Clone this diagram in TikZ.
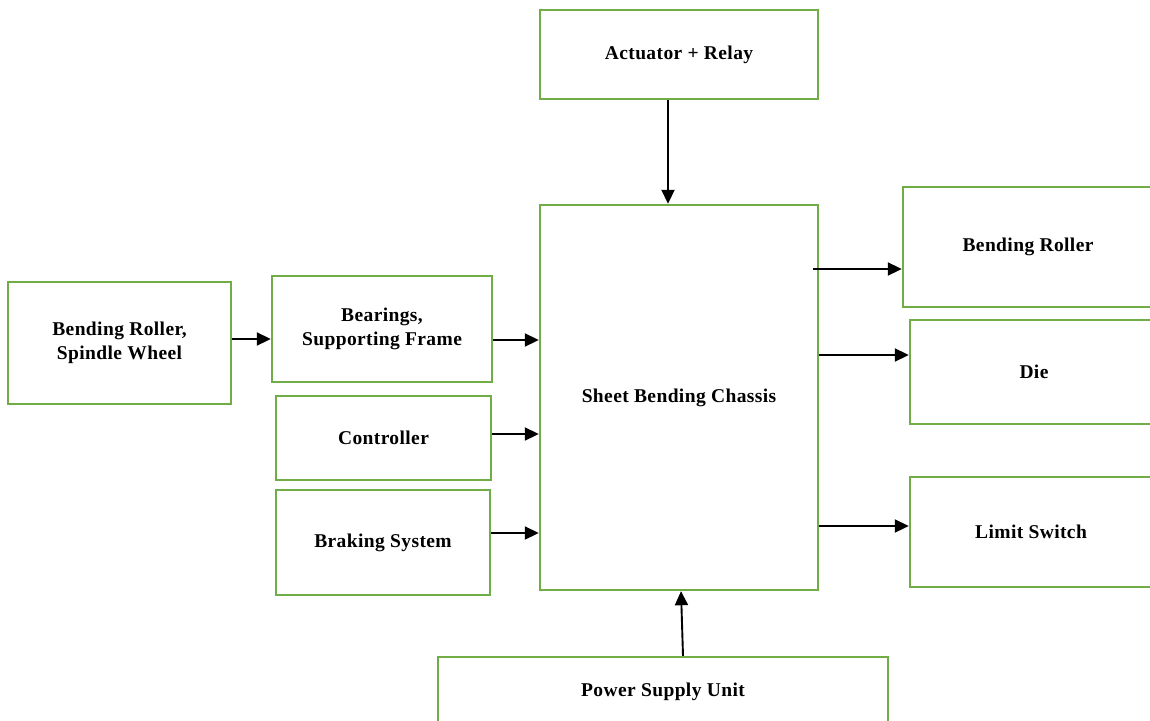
\documentclass[tikz,border=0pt]{standalone}
\usepackage{fontspec}
\setmainfont{Liberation Serif}[LetterSpace=2]
\usetikzlibrary{arrows.meta}
\definecolor{boxgreen}{RGB}{112,173,71}
\begin{document}
\begin{tikzpicture}[x=1pt,y=-1pt,
  box/.style={draw=boxgreen, line width=2.4pt, fill=white, align=center,
    font=\bfseries\fontsize{19.5}{24}\selectfont, inner sep=0pt},
  arr/.style={-{Triangle[length=14pt,width=13pt]}, line width=1.9pt, black}]
\useasboundingbox (0,0) rectangle (1150,720);
\clip (0,0) rectangle (1150,720);
% top and centre
\node[box, minimum width=278pt, minimum height=89pt] (act) at (679,54.5) {Actuator + Relay};
\node[box, minimum width=278pt, minimum height=385pt] (chassis) at (679,397.5) {Sheet Bending Chassis};
% right column (cut by the picture's right edge)
\node[box, minimum width=250pt, minimum height=120pt] (roller) at (1028,247) {Bending Roller};
\node[box, minimum width=248pt, minimum height=104pt] (die) at (1034,372) {Die};
\node[box, minimum width=242pt, minimum height=110pt] (limit) at (1031,532) {Limit Switch};
% left
\node[box, minimum width=223pt, minimum height=122pt] (spindle) at (119.5,343) {Bending Roller,\\Spindle Wheel};
\node[box, minimum width=220pt, minimum height=106pt] (bear) at (382,329) {Bearings,\\Supporting Frame};
\node[box, minimum width=215pt, minimum height=84pt] (ctrl) at (383.5,438) {Controller};
\node[box, minimum width=214pt, minimum height=105pt] (brake) at (383,542.5) {Braking System};
% bottom
\node[box, minimum width=450pt, minimum height=70pt] (psu) at (663,692) {Power Supply Unit};
% connectors
\draw[arr] (act.south -| 668,0) -- (chassis.north -| 668,0);
\draw[arr] ([xshift=-6pt]chassis.east |- 0,269) -- (roller.west |- 0,269);
\draw[arr] (chassis.east |- 0,355) -- (die.west |- 0,355);
\draw[arr] (chassis.east |- 0,526) -- (limit.west |- 0,526);
\draw[arr] (spindle.east |- 0,339) -- (bear.west |- 0,339);
\draw[arr] (bear.east |- 0,340) -- (chassis.west |- 0,340);
\draw[arr] (ctrl.east |- 0,434) -- (chassis.west |- 0,434);
\draw[arr] (brake.east |- 0,533) -- (chassis.west |- 0,533);
\draw[arr] (psu.north -| 683,0) -- (chassis.south -| 681,0);
\end{tikzpicture}
\end{document}
